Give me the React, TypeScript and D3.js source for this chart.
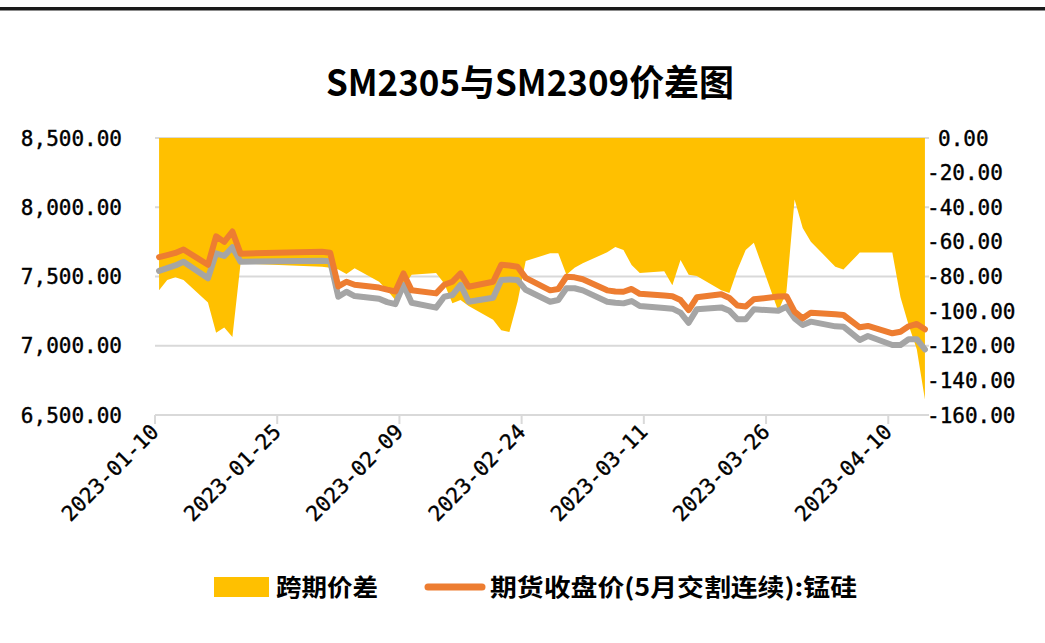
import * as d3 from "d3";
import { FC } from "react";

const WIDTH = 1045;
const HEIGHT = 643;

const dates = [
  "2023-01-10", "2023-01-11", "2023-01-12", "2023-01-13", "2023-01-16", "2023-01-17",
  "2023-01-18", "2023-01-19", "2023-01-20", "2023-01-30", "2023-01-31",
  "2023-02-01", "2023-02-02", "2023-02-03", "2023-02-06", "2023-02-07", "2023-02-08",
  "2023-02-09", "2023-02-10", "2023-02-13", "2023-02-14", "2023-02-15", "2023-02-16",
  "2023-02-17", "2023-02-20", "2023-02-21", "2023-02-22", "2023-02-23", "2023-02-24",
  "2023-02-27", "2023-02-28",
  "2023-03-01", "2023-03-02", "2023-03-03", "2023-03-06", "2023-03-07", "2023-03-08",
  "2023-03-09", "2023-03-10", "2023-03-13", "2023-03-14", "2023-03-15", "2023-03-16",
  "2023-03-17", "2023-03-20", "2023-03-21", "2023-03-22", "2023-03-23", "2023-03-24",
  "2023-03-27", "2023-03-28", "2023-03-29", "2023-03-30", "2023-03-31",
  "2023-04-03", "2023-04-04", "2023-04-06", "2023-04-07", "2023-04-10", "2023-04-11",
  "2023-04-12", "2023-04-13", "2023-04-14",
];

// 跨期价差 (right axis)
const spread = [
  -88, -82, -80.5, -82, -95, -112.5,
  -109.5, -115, -72.5, -74.3, -75,
  -76, -78.6, -75.3, -83, -88, -93.6,
  -86, -79, -78, -84, -95.5, -93.6,
  -97, -105, -111, -112, -94.6, -71,
  -66.6, -66.6,
  -79, -75, -72.4, -66, -63, -64.7,
  -73.4, -78, -77, -85, -70.5, -79,
  -79.7, -88, -89.5, -76, -64.7, -60.5,
  -100, -89, -35.5, -52, -59.9,
  -74.3, -76, -66.2, -66.2, -66.2, -92,
  -108, -122, -151,
];

// 期货收盘价(5月交割连续):锰硅 (left axis)
const priceMay = [
  7640, 7655, 7670, 7695, 7585, 7790,
  7750, 7825, 7665, 7678, 7672,
  7428, 7462, 7440, 7420, 7405, 7392,
  7522, 7400, 7378, 7440, 7462, 7522,
  7426, 7462, 7585, 7580, 7570, 7490,
  7400, 7410,
  7498, 7494, 7480, 7400, 7392, 7390,
  7410, 7375, 7362, 7358, 7330, 7258,
  7350, 7372, 7345, 7290, 7283, 7335,
  7355, 7358, 7246, 7198, 7239,
  7228, 7222, 7133, 7143, 7090, 7101,
  7140, 7157, 7119,
];

// grey series (left axis)
const priceSep = [
  7540, 7560, 7580, 7607, 7487, 7667,
  7648, 7711, 7607, 7614, 7610,
  7354, 7390, 7359, 7340, 7315, 7300,
  7440, 7310, 7275, 7354, 7366, 7440,
  7318, 7347, 7475, 7478, 7475, 7404,
  7318, 7330,
  7415, 7415, 7400, 7318, 7310, 7306,
  7323, 7287, 7272, 7268, 7239, 7166,
  7263, 7277, 7253, 7191, 7191, 7263,
  7253, 7282, 7198, 7150, 7174,
  7140, 7138, 7042, 7070, 7005, 7005,
  7047, 7047, 6974,
];

const leftTicks = [8500, 8000, 7500, 7000, 6500];
const rightTicks = [0, -20, -40, -60, -80, -100, -120, -140, -160];

const AXIS_FONT = "'DejaVu Sans Mono', monospace";
const CJK_FONT = "'Noto Sans CJK SC', 'Noto Sans', sans-serif";

const parse = d3.timeParse("%Y-%m-%d");
const fmtDate = d3.timeFormat("%Y-%m-%d");

const App: FC = () => {
  const left = 155;
  const right = 929;
  const top = 138;
  const bottom = 415;

  const days = dates.map((d) => parse(d) as Date);
  const start = days[0];
  const end = d3.timeDay.offset(days[days.length - 1], 1);

  const x = d3.scaleTime().domain([start, end]).range([left, right]);
  const yL = d3.scaleLinear().domain([6500, 8500]).range([bottom, top]);
  const yR = d3.scaleLinear().domain([-160, 0]).range([bottom, top]);
  const xMid = (d: Date) => x(d3.timeHour.offset(d, 12));

  const xTicks = d3.range(7).map((i) => d3.timeDay.offset(start, 15 * i));

  const area = d3
    .area<number>()
    .x((_, i) => xMid(days[i]))
    .y0(yR(0))
    .y1((d) => yR(d));

  const line = d3
    .line<number>()
    .x((_, i) => xMid(days[i]))
    .y((d) => yL(d))
    .curve(d3.curveLinear);

  const fmtL = d3.format(",.2f");
  const fmtR = (v: number) => d3.format(".2f")(v).replace("\u2212", "-");

  return (
    <div style={{ position: "absolute", left: 0, top: 0 }}>
      <svg width={WIDTH} height={HEIGHT} style={{ display: "block", background: "#fff" }}>
        <rect x={0} y={7} width={WIDTH} height={3.5} fill="#1a1a1a" />

        <text
          x={530}
          y={96}
          textAnchor="middle"
          fontFamily={CJK_FONT}
          fontWeight="bold"
          fontSize={36}
          textLength={408}
          lengthAdjust="spacingAndGlyphs"
          fill="#000"
        >
          SM2305与SM2309价差图
        </text>

        {/* gridlines */}
        {leftTicks.map((t) => (
          <line key={t} x1={left} x2={right} y1={yL(t)} y2={yL(t)} stroke="#d9d9d9" strokeWidth={2} />
        ))}

        {/* x ticks */}
        {xTicks.map((t) => (
          <line key={+t} x1={x(t)} x2={x(t)} y1={bottom} y2={bottom + 9} stroke="#d9d9d9" strokeWidth={2} />
        ))}

        {/* spread area */}
        <path d={area(spread) || ""} fill="#FFC000" />

        {/* price lines */}
        <path
          d={line(priceSep) || ""}
          fill="none"
          stroke="#A5A5A5"
          strokeWidth={6}
          strokeLinejoin="round"
          strokeLinecap="round"
        />
        <path
          d={line(priceMay) || ""}
          fill="none"
          stroke="#ED7D31"
          strokeWidth={6}
          strokeLinejoin="round"
          strokeLinecap="round"
        />

        {/* left axis labels */}
        {leftTicks.map((t) => (
          <text
            key={t}
            x={122}
            y={yL(t)}
            dy="0.36em"
            textAnchor="end"
            fontFamily={AXIS_FONT}
            fontSize={21}
            fill="#000"
            stroke="#000"
            strokeWidth={0.4}
          >
            {fmtL(t)}
          </text>
        ))}

        {/* right axis labels */}
        {rightTicks.map((t) => (
          <text
            key={t}
            x={t === 0 ? 938 : 927}
            y={yR(t)}
            dy="0.36em"
            textAnchor="start"
            fontFamily={AXIS_FONT}
            fontSize={21}
            fill="#000"
            stroke="#000"
            strokeWidth={0.4}
          >
            {fmtR(t)}
          </text>
        ))}

        {/* x axis labels */}
        {xTicks.map((t) => (
          <text
            key={+t}
            transform={`translate(${x(t) + 5}, ${bottom + 18}) rotate(-45)`}
            textAnchor="end"
            fontFamily={AXIS_FONT}
            fontSize={21}
            fill="#000"
            stroke="#000"
            strokeWidth={0.4}
          >
            {fmtDate(t)}
          </text>
        ))}

        {/* legend */}
        <rect x={214} y={577} width={55} height={20} fill="#FFC000" />
        <text
          x={276}
          y={596}
          fontFamily={CJK_FONT}
          fontWeight="bold"
          fontSize={24}
          textLength={102}
          lengthAdjust="spacingAndGlyphs"
          fill="#000"
        >
          跨期价差
        </text>
        <line x1={428} x2={482} y1={587} y2={587} stroke="#ED7D31" strokeWidth={7} strokeLinecap="round" />
        <text
          x={490}
          y={596}
          fontFamily={CJK_FONT}
          fontWeight="bold"
          fontSize={24}
          textLength={367}
          lengthAdjust="spacingAndGlyphs"
          fill="#000"
        >
          期货收盘价(5月交割连续):锰硅
        </text>
      </svg>
    </div>
  );
};

export default App;
